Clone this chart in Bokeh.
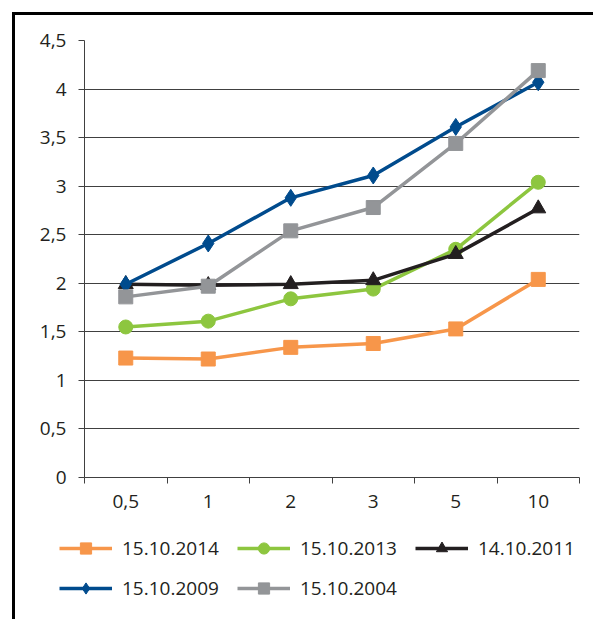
from bokeh.plotting import figure
from bokeh.layouts import column
from bokeh.models import (Range1d, FixedTicker, LinearAxis, CustomJSTickFormatter,
                          Legend, LegendItem, ColumnDataSource)
from bokeh.embed import file_html
from bokeh.resources import INLINE

# Maturities (years) and yield curves on five dates
categories = ["0,5", "1", "2", "3", "5", "10"]
y_ticks = [0, 0.5, 1, 1.5, 2, 2.5, 3, 3.5, 4, 4.5]

curve_2014 = [1.23, 1.22, 1.34, 1.38, 1.53, 2.04]
curve_2013 = [1.55, 1.61, 1.84, 1.94, 2.35, 3.04]
curve_2011 = [1.99, 1.98, 1.99, 2.03, 2.30, 2.77]
curve_2009 = [1.99, 2.41, 2.88, 3.11, 3.61, 4.07]
curve_2004 = [1.86, 1.97, 2.54, 2.78, 3.44, 4.19]

series_labels = ["15.10.2014", "15.10.2013", "14.10.2011", "15.10.2009", "15.10.2004"]
series_values = [curve_2014, curve_2013, curve_2011, curve_2009, curve_2004]

colors = ["#F7964A", "#8DC63F", "#231F20", "#004B8D", "#939598"]
markers = ["square", "circle", "triangle", "diamond", "square"]
marker_sizes = [14, 14, 15, 17, 14]

FONT = "Open Sans"
TEXT = "#231F20"
GRID = "#404040"
LINE_W = 3.5

n = len(categories)
xs = [i + 0.5 for i in range(n)]

p = figure(width=578, height=512, x_range=Range1d(0, n), y_range=Range1d(0, 4.5),
           output_backend="svg", toolbar_location=None, frame_align=False,
           min_border_left=69, min_border_right=14, min_border_top=25, min_border_bottom=50,
           background_fill_color="white", border_fill_color="white")
p.outline_line_color = None
p.xgrid.visible = False

# y axis with comma decimals
p.yaxis.ticker = FixedTicker(ticks=y_ticks)
p.yaxis.formatter = CustomJSTickFormatter(code="return tick.toString().replace('.', ',');")
p.yaxis.axis_line_color = GRID
p.yaxis.major_tick_line_color = GRID
p.yaxis.major_tick_out = 6
p.yaxis.major_tick_in = 0
p.yaxis.minor_tick_line_color = None
p.yaxis.major_label_standoff = 12
p.yaxis.major_label_text_font = FONT
p.yaxis.major_label_text_font_size = "19px"
p.yaxis.major_label_text_color = TEXT
p.ygrid.ticker = FixedTicker(ticks=y_ticks)
p.ygrid.grid_line_color = GRID

# x axis: tick marks between categories
xa = p.xaxis[0]
xa.ticker = FixedTicker(ticks=list(range(n + 1)))
xa.formatter = CustomJSTickFormatter(code="return '';")
xa.axis_line_color = GRID
xa.major_tick_line_color = GRID
xa.major_tick_out = 6
xa.major_tick_in = 0
xa.minor_tick_line_color = None
xa.major_label_standoff = 0

# x axis: category labels centred on each slot
xl = LinearAxis(ticker=FixedTicker(ticks=xs),
                formatter=CustomJSTickFormatter(args=dict(labels=categories),
                                                code="return labels[Math.floor(tick)];"))
xl.axis_line_color = None
xl.major_tick_line_color = None
xl.minor_tick_line_color = None
xl.major_tick_out = 0
xl.major_tick_in = 0
xl.major_label_standoff = 11
xl.major_label_text_font = FONT
xl.major_label_text_font_size = "19px"
xl.major_label_text_color = TEXT
p.add_layout(xl, "below")

# legend panel: its own figure whose view range keeps the data out of sight
lf = figure(width=578, height=92, x_range=Range1d(100, 101), y_range=Range1d(100, 101),
            output_backend="svg", toolbar_location=None, min_border=0, frame_align=False,
            x_axis_location=None, y_axis_location=None,
            background_fill_color="white", border_fill_color="white")
lf.outline_line_color = None
lf.grid.visible = False

items = []
for label, vals, c, m, s in zip(series_labels, series_values, colors, markers, marker_sizes):
    src = ColumnDataSource(dict(x=xs, y=vals))
    p.line("x", "y", source=src, line_color=c, line_width=LINE_W)
    p.scatter("x", "y", source=src, marker=m, size=s, fill_color=c, line_color=c)
    ln = lf.line("x", "y", source=src, line_color=c, line_width=LINE_W)
    sc = lf.scatter("x", "y", source=src, marker=m, size=s, fill_color=c, line_color=c)
    items.append(LegendItem(label=label, renderers=[ln, sc]))

legend = Legend(items=items, orientation="horizontal", ncols=3,
                location=(44, 17), padding=0, margin=0, spacing=12,
                glyph_width=53, glyph_height=28, label_standoff=10, label_width=103,
                label_text_font=FONT, label_text_font_size="19px", label_text_color=TEXT,
                border_line_color=None, background_fill_alpha=0)
lf.add_layout(legend, "center")

# black frame on the left and top edges of the chart block
layout = column(p, lf, spacing=0,
                styles={"margin-left": "12px", "margin-top": "12px",
                        "border-left": "3px solid black", "border-top": "3px solid black"})

open("out.html", "w").write(file_html(layout, INLINE))
